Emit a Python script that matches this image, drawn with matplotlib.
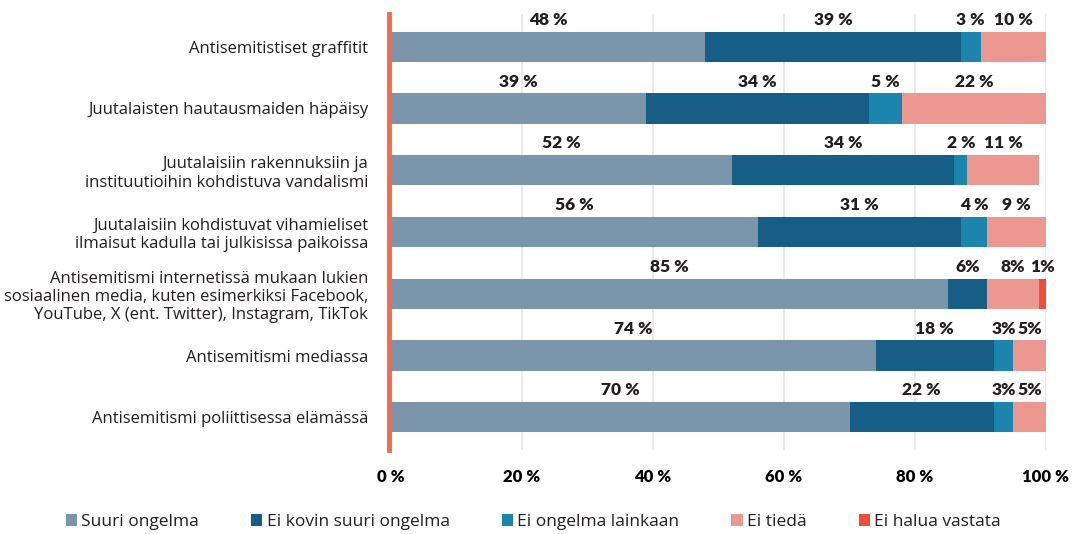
import matplotlib
matplotlib.use("Agg")
import matplotlib.pyplot as plt
from matplotlib.patches import Patch
import numpy as np

categories = [
    "Antisemitistiset graffitit",
    "Juutalaisten hautausmaiden häpäisy",
    "Juutalaisiin rakennuksiin ja\ninstituutioihin kohdistuva vandalismi",
    "Juutalaisiin kohdistuvat vihamieliset\nilmaisut kadulla tai julkisissa paikoissa",
    "Antisemitismi internetissä mukaan lukien\nsosiaalinen media, kuten esimerkiksi Facebook,\nYouTube, X (ent. Twitter), Instagram, TikTok",
    "Antisemitismi mediassa",
    "Antisemitismi poliittisessa elämässä",
]
series_names = ["Suuri ongelma", "Ei kovin suuri ongelma", "Ei ongelma lainkaan",
                "Ei tiedä", "Ei halua vastata"]
suuri = [48, 39, 52, 56, 85, 74, 70]
ei_kovin = [39, 34, 34, 31, 6, 18, 22]
ei_lainkaan = [3, 5, 2, 4, 0, 3, 3]
ei_tieda = [10, 22, 11, 9, 8, 5, 5]
ei_halua = [0, 0, 0, 0, 1, 0, 0]
# label texts as printed (some without space)
labels = [
    ["48 %", "39 %", "3 %", "10 %", ""],
    ["39 %", "34 %", "5 %", "22 %", ""],
    ["52 %", "34 %", "2 %", "11 %", ""],
    ["56 %", "31 %", "4 %", "9 %", ""],
    ["85 %", "6%", "", "8%", "1%"],
    ["74 %", "18 %", "3%", "5%", ""],
    ["70 %", "22 %", "3%", "5%", ""],
]
x_ticks = [0, 20, 40, 60, 80, 100]
x_ticklabels = ["0 %", "20 %", "40 %", "60 %", "80 %", "100 %"]

colors = ["#7B96AA", "#165E85", "#1B85AE", "#EA9890", "#EE4E39"]
axis_color = "#F26B4E"
text_color = "#231F20"

plt.rcParams['font.family'] = ['Lato', 'DejaVu Sans']

fig = plt.figure(figsize=(10.84, 5.34), dpi=100)
ax = fig.add_axes([391 / 1084, 1 - 450 / 534, (1046 - 391) / 1084, (450 - 14) / 534])

data = [suuri, ei_kovin, ei_lainkaan, ei_tieda, ei_halua]
y = np.arange(len(categories))
left = np.zeros(len(categories))
bh = 0.49
for s, (vals, col) in enumerate(zip(data, colors)):
    vals = np.array(vals, dtype=float)
    ax.barh(y, vals, left=left, height=bh, color=col, edgecolor='none', zorder=3)
    for i in range(len(categories)):
        txt = labels[i][s]
        if txt:
            ax.text(left[i] + vals[i] / 2, y[i] - bh / 2 - 0.06, txt,
                    ha='center', va='bottom', fontsize=12.5, fontweight='heavy',
                    color=text_color, zorder=4)
    left += vals

ax.set_xlim(0, 100)
ax.set_ylim(len(categories) - 0.47, -0.53)
ax.tick_params(axis='y', length=0, pad=15, labelsize=12, labelcolor=text_color,
               labelfontfamily='Open Sans')
ax.tick_params(axis='x', length=0, pad=14, labelsize=12, labelcolor='black')
ax.set_yticks(y)
ax.set_yticklabels(categories, fontsize=12, family='Open Sans', linespacing=1.05)
ax.set_xticks(x_ticks)
ax.set_xticklabels(x_ticklabels, fontsize=12, fontweight='heavy', color='black')
ax.grid(axis='x', color='#E6E6E6', linewidth=1.2, zorder=0)
ax.set_axisbelow(True)
for side in ['top', 'right', 'bottom']:
    ax.spines[side].set_visible(False)
ax.spines['left'].set_color(axis_color)
ax.spines['left'].set_linewidth(3.5)
ax.spines['left'].set_position(('data', -0.3))
ax.spines['left'].set_zorder(5)

handles = [Patch(facecolor=c, edgecolor='none', label=n) for c, n in zip(colors, series_names)]
fig.legend(handles=handles, loc='center', bbox_to_anchor=(0.492, 1 - 522 / 534), ncol=5,
           frameon=False, prop={'family': ['Open Sans', 'DejaVu Sans'], 'size': 12.5},
           handlelength=0.65, handleheight=0.65,
           handletextpad=0.25, columnspacing=3.0, labelcolor=text_color)

fig.savefig("out.png", dpi=100)
